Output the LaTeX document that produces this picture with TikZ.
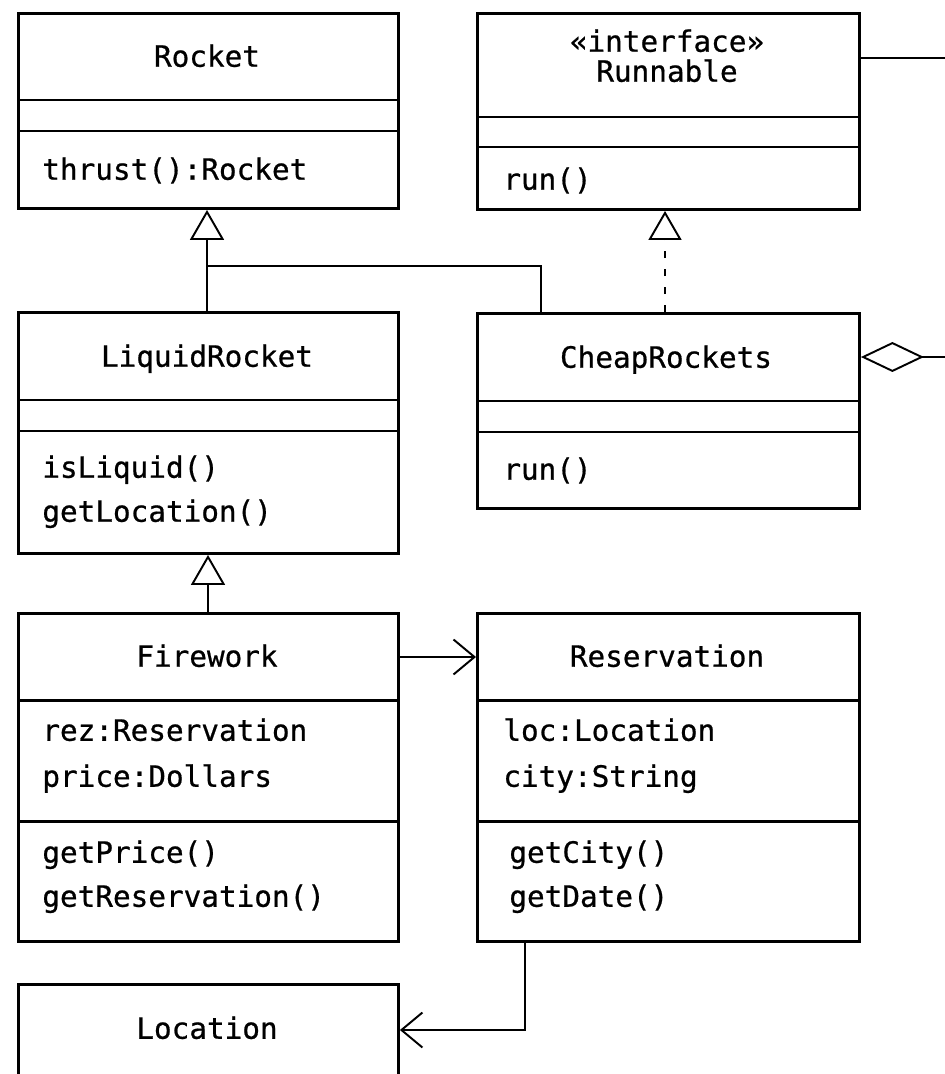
\documentclass[tikz,border=0pt]{standalone}
\usepackage{fontspec}
\setmainfont{DejaVu Sans Mono}[FakeBold=0.7]
\usetikzlibrary{arrows.meta}
\begin{document}
\begin{tikzpicture}[x=0.02cm,y=-0.02cm,
  classbox/.style={draw, line width=1.7pt, rectangle, anchor=north west, inner sep=0pt},
  compart/.style={line width=1.7pt},
  txt/.style={font=\fontsize{16.7}{20}\selectfont, inner sep=0pt, text height=0.74em, text depth=0.2em},
  cname/.style={txt, anchor=center},
  member/.style={txt, anchor=west},
  conn/.style={line width=1.1pt},
  inherit/.style={conn, -{Triangle[open, length=0.6cm, width=0.68cm, line width=1.1pt]}},
  realize/.style={conn, line width=1.6pt, dash pattern=on 0.15cm off 0.21cm, -{Triangle[open, length=0.58cm, width=0.66cm, line width=1.1pt]}},
  assoc/.style={conn, -{Straight Barb[length=0.42cm, width=0.7cm, line width=1.1pt]}},
  aggr/.style={conn, {Diamond[open, length=1.26cm, width=0.6cm, line width=1.1pt]}-}
]
\useasboundingbox (0,0) rectangle (945,1074);
\clip (0,0) rectangle (945,1074);

% Rocket
\node[classbox, minimum width=7.6cm, minimum height=3.9cm] (rocket) at (17,12) {};
\draw[compart] (17,100) -- (397,100) (17,131) -- (397,131);
\node[cname] (rocketname) at (207,62) {Rocket};
\node[member] (rocketop) at (42,175) {thrust():Rocket};

% Runnable interface
\node[classbox, minimum width=7.64cm, minimum height=3.92cm] (runnable) at (476,12) {};
\draw[compart] (476,117) -- (858,117) (476,147) -- (858,147);
\node[cname] (stereotype) at (667,47) {«interface»};
\node[cname] (runnablename) at (667,77) {Runnable};
\node[member] (runnableop) at (503,185) {run()};

% LiquidRocket
\node[classbox, minimum width=7.6cm, minimum height=4.82cm] (liquid) at (17,311) {};
\draw[compart] (17,400) -- (397,400) (17,431) -- (397,431);
\node[cname] (liquidname) at (207,362) {LiquidRocket};
\node[member] (liquidop1) at (42,473) {isLiquid()};
\node[member] (liquidop2) at (42,517) {getLocation()};

% CheapRockets
\node[classbox, minimum width=7.64cm, minimum height=3.9cm] (cheap) at (476,312) {};
\draw[compart] (476,401) -- (858,401) (476,432) -- (858,432);
\node[cname] (cheapname) at (666,363) {CheapRockets};
\node[member] (cheapop) at (503,475) {run()};

% Firework
\node[classbox, minimum width=7.6cm, minimum height=6.56cm] (firework) at (17,612) {};
\draw[compart] (17,700) -- (397,700) (17,821) -- (397,821);
\node[cname] (fireworkname) at (207,662) {Firework};
\node[member] (fwattr1) at (42,736) {rez:Reservation};
\node[member] (fwattr2) at (42,782) {price:Dollars};
\node[member] (fwop1) at (42,858) {getPrice()};
\node[member] (fwop2) at (42,902) {getReservation()};

% Reservation
\node[classbox, minimum width=7.64cm, minimum height=6.56cm] (reservation) at (476,612) {};
\draw[compart] (476,700) -- (858,700) (476,821) -- (858,821);
\node[cname] (reservationname) at (667,662) {Reservation};
\node[member] (resattr1) at (503,736) {loc:Location};
\node[member] (resattr2) at (503,782) {city:String};
\node[member] (resop1) at (509,858) {getCity()};
\node[member] (resop2) at (509,902) {getDate()};

% Location (runs past the lower edge)
\node[classbox, minimum width=7.6cm, minimum height=2.6cm] (location) at (17,983) {};
\node[cname] (locationname) at (207,1034) {Location};

% Generalizations
\coordinate (gen) at (207,266);
\draw[inherit] (liquid.north -| gen) -- (rocket.south -| gen);
\draw[conn] (gen) -- (541,266) -- (cheap.north -| 541,0);
\draw[inherit] (firework.north -| 208,0) -- (liquid.south -| 208,0);

% Realization
\draw[realize] (cheap.north -| 665,0) -- (runnable.south -| 665,0);

% Associations
\draw[assoc] (firework.east |- 0,657) -- (reservation.west |- 0,657);
\coordinate (bend) at (525,1030);
\draw[assoc] (reservation.south -| bend) -- (bend) -- (location.east |- bend);

% Lines leaving to the right
\coordinate (runout) at (945,58);
\draw[conn] (runnable.east |- runout) -- (runout);
\coordinate (cheapout) at (945,357);
\draw[aggr] (cheap.east |- cheapout) -- (cheapout);
\end{tikzpicture}
\end{document}
